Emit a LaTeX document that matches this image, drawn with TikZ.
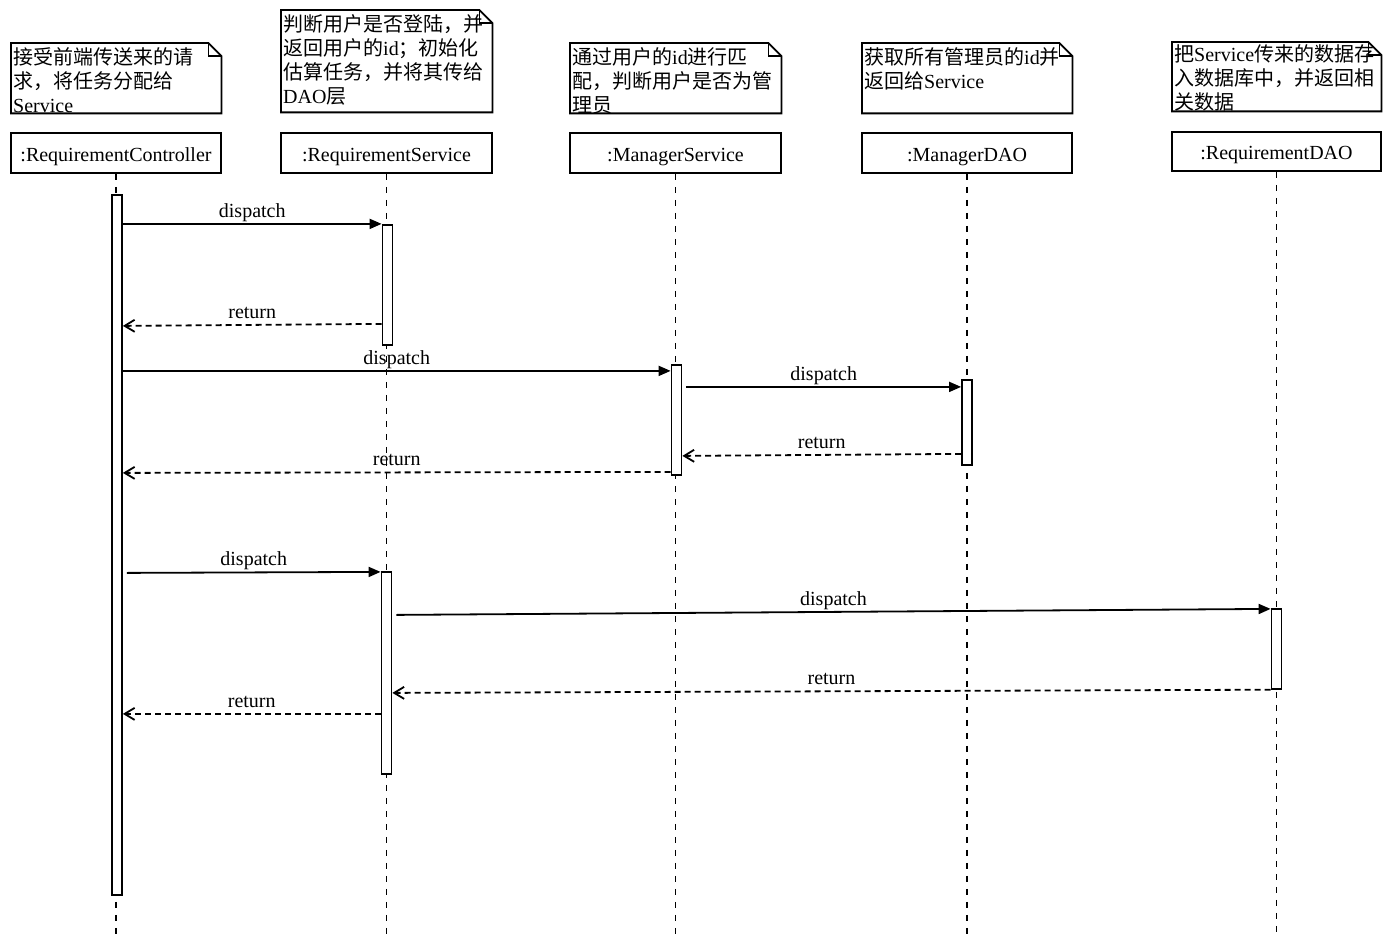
\documentclass[tikz,border=0pt]{standalone}
\usepackage{fontspec}
\setmainfont{Liberation Serif}
\newfontfamily\cjk{Noto Sans CJK SC}
\usetikzlibrary{arrows.meta,calc}

% outline of a note with a folded top-right corner
\newcommand\foldnote[1]{%
  \draw[noteline] (#1.north west) -- ([xshift=-13pt]#1.north east)
    -- ([yshift=-13pt]#1.north east) -- (#1.south east) -- (#1.south west) -- cycle;
  \draw[noteline] ([xshift=-13pt]#1.north east) |- ([yshift=-13pt]#1.north east);}

\begin{document}
\begin{tikzpicture}[x=1pt,y=-1pt,
  font=\fontsize{20}{24}\selectfont,
  part/.style={draw, line width=1.8pt, fill=white, minimum width=210pt,
    minimum height=40pt, inner sep=0pt, text height=17pt, text depth=0pt},
  life/.style={line width=1.8pt, dash pattern=on 6pt off 7pt},
  act/.style={draw, line width=1.8pt, fill=white, minimum width=10pt,
    inner sep=0pt, anchor=north},
  notearea/.style={inner sep=0pt, anchor=north west},
  noteline/.style={line width=1.8pt, line join=miter},
  notetext/.style={inner sep=0pt, anchor=base west},
  call/.style={line width=1.8pt, -{Triangle[length=12pt,width=10pt]}},
  reply/.style={line width=1.8pt, dash pattern=on 6pt off 4pt,
    -{Straight Barb[length=10pt,width=12pt]}},
  lbl/.style={anchor=base, yshift=6.5pt, inner sep=0pt}
]
\useasboundingbox (0,0) rectangle (1392,944);

% notes
\node[notearea, minimum width=210pt, minimum height=70pt]  (n1) at (11,43) {};
\node[notearea, minimum width=211pt, minimum height=102pt] (n2) at (281,10) {};
\node[notearea, minimum width=211pt, minimum height=70pt]  (n3) at (570,43) {};
\node[notearea, minimum width=210pt, minimum height=70pt]  (n4) at (862,43) {};
\node[notearea, minimum width=209pt, minimum height=69pt]  (n5) at (1172,42) {};
\foldnote{n1}\foldnote{n2}\foldnote{n3}\foldnote{n4}\foldnote{n5}

\node[notetext] (t1) at (13,65) {\parbox[t]{400pt}{%
  {\cjk 接受前端传送来的请}\\{\cjk 求，将任务分配给}\\Service}};
\node[notetext] (t2) at (283,32) {\parbox[t]{400pt}{%
  {\cjk 判断用户是否登陆，并}\\{\cjk 返回用户的}id{\cjk ；初始化}\\%
  {\cjk 估算任务，并将其传给}\\DAO{\cjk 层}}};
\node[notetext] (t3) at (572,65) {\parbox[t]{400pt}{%
  {\cjk 通过用户的}id{\cjk 进行匹}\\{\cjk 配，判断用户是否为管}\\{\cjk 理员}}};
\node[notetext] (t4) at (864,65) {\parbox[t]{400pt}{%
  {\cjk 获取所有管理员的}id{\cjk 并}\\{\cjk 返回给}Service}};
\node[notetext] (t5) at (1174,62) {\parbox[t]{400pt}{%
  {\cjk 把}Service{\cjk 传来的数据存}\\{\cjk 入数据库中，并返回相}\\{\cjk 关数据}}};

% participants
\coordinate (bottom) at (0,934);
\node[part] (pc) at (116,153) {:RequirementController};
\node[part, minimum width=211pt] (ps) at (386.5,153) {:RequirementService};
\node[part, minimum width=211pt] (pm) at (675.5,153) {:ManagerService};
\node[part] (pd) at (967,153) {:ManagerDAO};
\node[part, minimum width=209pt, minimum height=39pt] (pr) at (1276.5,151.5) {:RequirementDAO};

% lifelines
\foreach \p in {pc,ps,pm,pd,pr}
  \draw[life] (\p.south) -- (\p.south |- bottom);

% activation bars
\node[act, minimum height=700pt] (ac) at ($(pc.south)+(1,20)$) {};
\node[act, minimum height=120pt] (a1) at ($(ps.south)+(1,50)$) {};
\node[act, minimum height=110pt] (a2) at ($(pm.south)+(1,190)$) {};
\node[act, minimum height=85pt]  (a3) at ($(pd.south)+(0,205)$) {};
\node[act, minimum height=202pt] (a4) at ($(ps.south)+(0,397)$) {};
\node[act, minimum height=80pt]  (a5) at ($(pr.south)+(0,436)$) {};

% messages
\draw[call]  ($(ac.north east)+(0,30)$) -- (a1.north west)
  node[lbl, midway] {dispatch};
\draw[reply] ($(a1.north west)+(0,100)$) -- ($(ac.north east)+(0,132)$)
  node[lbl, midway] {return};
\draw[call]  ($(ac.north east)+(0,177)$) -- ($(a2.north west)+(0,7)$)
  node[lbl, midway] {dispatch};
\draw[call]  ($(a2.north east)+(4,23)$) -- ($(a3.north west)+(0,8)$)
  node[lbl, midway] {dispatch};
\draw[reply] ($(a3.north west)+(0,75)$) -- ($(a2.north east)+(0,92)$)
  node[lbl, midway] {return};
\draw[reply] ($(a2.north west)+(0,108)$) -- ($(ac.north east)+(0,279)$)
  node[lbl, midway] {return};
\draw[call]  ($(ac.north east)+(4,379)$) -- ($(a4.north west)+(0,1)$)
  node[lbl, midway] {dispatch};
\draw[call]  ($(a4.north east)+(4,44)$) -- ($(a5.north west)+(0,1)$)
  node[lbl, midway] {dispatch};
\draw[reply] (a5.south west) -- ($(a4.north east)+(0,122)$)
  node[lbl, midway] {return};
\draw[reply] ($(a4.north west)+(0,143)$) -- ($(ac.north east)+(0,520)$)
  node[lbl, midway] {return};
\end{tikzpicture}
\end{document}
